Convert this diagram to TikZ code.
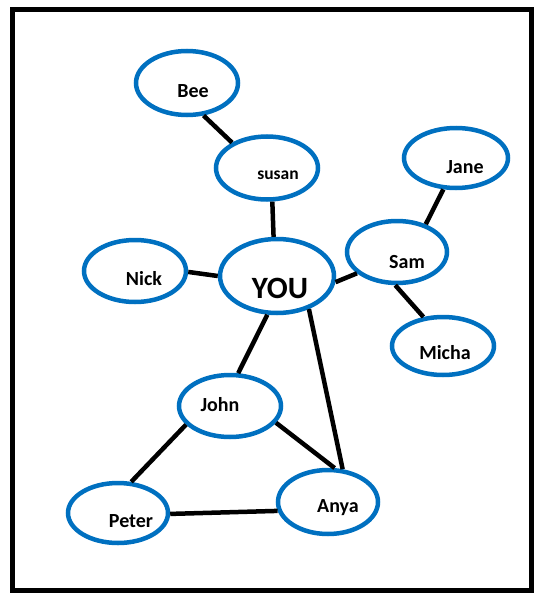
\documentclass[tikz,border=0pt]{standalone}
\usepackage{fontspec}
\setmainfont{Carlito}
\usepackage{tikz}
\usetikzlibrary{positioning, shapes.geometric}

\definecolor{friendblue}{RGB}{0,112,192}

\begin{document}
\begin{tikzpicture}[x=1pt, y=-1pt,
    person/.style={draw=friendblue, line width=4.5pt, ellipse, inner sep=0pt, minimum width=102pt, minimum height=62pt},
    link/.style={line width=4.5pt, black},
    every label/.style={font=\bfseries\fontsize{20}{20}\selectfont, inner sep=0pt}]
    \useasboundingbox (0,0) rectangle (538,594);
    \draw [line width=5pt] (12.5,9.5) rectangle (531,590);
    % People
    \node (you) [person, minimum width=114pt, minimum height=74pt, label={[xshift=3pt, yshift=-12pt, font=\bfseries\fontsize{31}{31}\selectfont]center:YOU}] at (277,276) {};
    \node (bee) [person, minimum height=64pt, label={[xshift=6pt, yshift=-8pt]center:Bee}] at (187,83) {};
    \node (susan) [person, minimum height=63pt, label={[xshift=11pt, yshift=-7pt, font=\bfseries\fontsize{17.5}{17.5}\selectfont]center:susan}] at (267,168) {};
    \node (nick) [person, label={[xshift=9pt, yshift=-8pt]center:Nick}] at (135,271) {};
    \node (sam) [person, minimum width=100pt, label={[xshift=10pt, yshift=-10pt]center:Sam}] at (397,252) {};
    \node (jane) [person, minimum width=104pt, minimum height=60pt, label={[xshift=9pt, yshift=-9pt]center:Jane}] at (456,158) {};
    \node (micha) [person, minimum height=58pt, label={[xshift=2pt, yshift=-7pt]center:Micha}] at (443,346) {};
    \node (john) [person, label={[xshift=-10pt, yshift=1pt]center:John}] at (230,406) {};
    \node (peter) [person, minimum width=100pt, minimum height=60pt, label={[xshift=13pt, yshift=-8pt]center:Peter}] at (118,513) {};
    \node (anya) [person, minimum width=100pt, minimum height=64pt, label={[xshift=10pt, yshift=-6pt]center:Anya}] at (328,502) {};
    % Links
    \draw [link] (bee.-63) -- (susan.144);
    \draw [link] (susan.-81) -- (you.95);
    \draw [link] (nick.-1) -- (you.180);
    \draw [link] (you.-6) -- (sam.208);
    \draw [link] (jane.-112) -- (sam.44);
    \draw [link] (sam.-93) -- (micha.124);
    \draw [link] (you.-104) -- (john.76);
    \draw [link] (you.-46) -- (anya.66);
    \draw [link] (john.203) -- (peter.67);
    \draw [link] (john.-20) -- (anya.79);
    \draw [link] (peter.-1) -- (anya.190);
\end{tikzpicture}
\end{document}
